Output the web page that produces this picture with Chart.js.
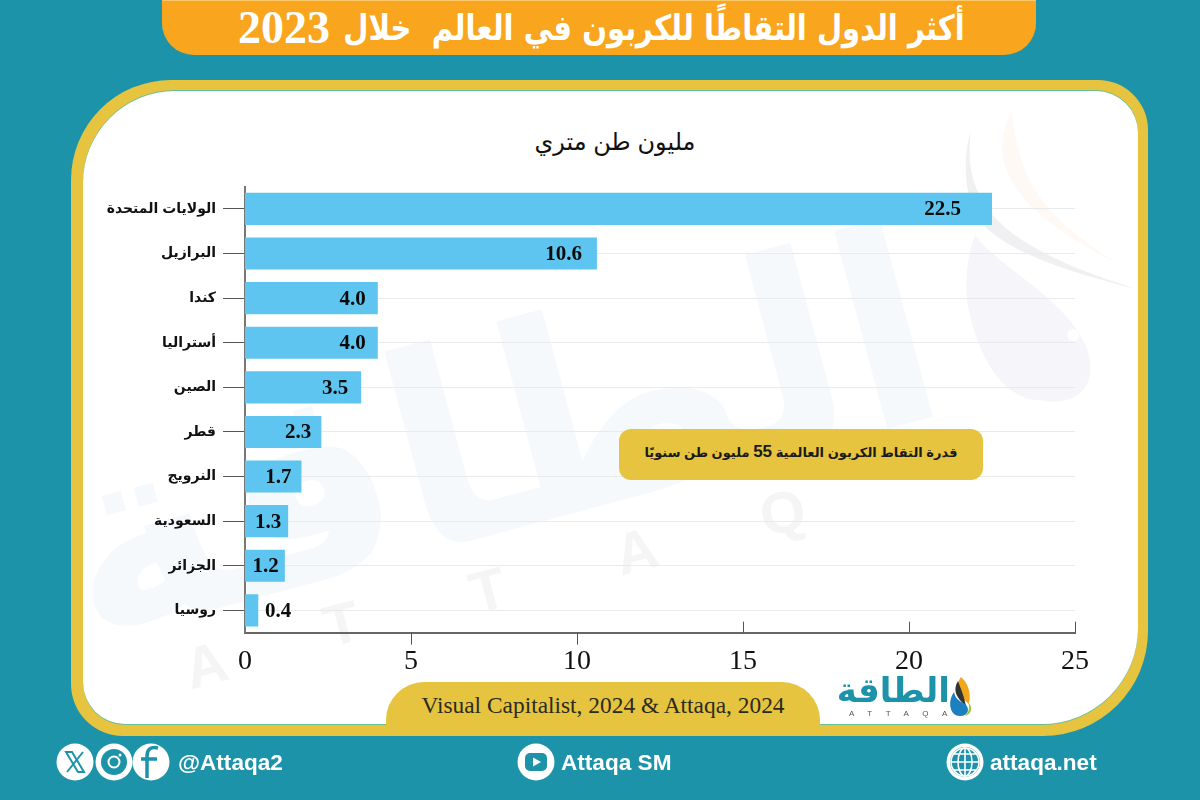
<!DOCTYPE html>
<html lang="ar">
<head>
<meta charset="utf-8">
<title>أكثر الدول التقاطًا للكربون في العالم خلال 2023</title>
<script src="https://cdn.jsdelivr.net/npm/chart.js@4"></script>
<style>
    html, body { margin: 0; padding: 0; }
    #page { position: relative; width: 1200px; height: 800px; overflow: hidden; background: #1c93a9; }
    #page > * { position: absolute; }
    #tab { left: 162px; top: 0; width: 874px; height: 55px; background: #f9a51e; border-radius: 0 0 32px 32px; box-shadow: inset 0 1px 0 #fbc96a; }
    #headingAr { right: 235px; top: 3px; color: #fff; font: bold 35px/50px "DejaVu Sans", sans-serif; white-space: nowrap; transform: scaleX(0.83); transform-origin: right center; }
    #headingYear { left: 238px; top: 3px; color: #fff; font: bold 46px/50px "Liberation Serif", serif; white-space: nowrap; }
    #frame { left: 71px; top: 80px; width: 1077px; height: 656px; background: #e6c43f; border-radius: 100px 50px 105px 52px; }
    #inner { left: 83px; top: 91px; width: 1055px; height: 633px; background: #fff; border-radius: 92px 42px 96px 42px; box-shadow: 0 -1px 0 #6cbf93, 0 1px 0 #6cbf93; overflow: hidden; }
    #watermark { left: -83px; top: -91px; position: absolute; }
    #unit { left: 415px; top: 126px; width: 400px; text-align: center; color: #111; font: 24px/32px "Liberation Sans", "DejaVu Sans", sans-serif; white-space: nowrap; }
    #source { left: 386px; top: 682px; width: 434px; height: 43px; background: #e6c43f; border-radius: 38px 38px 0 0; text-align: center; font: 23.4px/46px "Liberation Serif", serif; color: #2b2b1f; white-space: nowrap; }
    #note { left: 619px; top: 429px; width: 364px; height: 51px; background: #e6c43f; border-radius: 12px; text-align: center; font: bold 13px/46px "Liberation Sans", "DejaVu Sans", sans-serif; color: #1a1a1a; white-space: nowrap; }
    #note b { font-size: 17px; }
    #chart { left: 0; top: 0; }
    .foot { color: #fff; font: bold 22.6px/26px "Liberation Sans", sans-serif; white-space: nowrap; }
    #logoText { left: 838px; top: 668px; width: 112px; text-align: center; color: #1c93a9; font: bold 34px/44px "DejaVu Sans", sans-serif; white-space: nowrap; }
    #logoSub { left: 849px; top: 709px; color: #555; font: 8px/10px "Liberation Sans", sans-serif; letter-spacing: 13.5px; white-space: nowrap; }
</style>
</head>
<body>
<div id="page">
    <div id="tab"></div>
    <div id="headingAr" dir="rtl">أكثر الدول التقاطًا للكربون في العالم&nbsp; خلال</div>
    <div id="headingYear">2023</div>
    <div id="frame"></div>
    <div id="inner">
        <!-- faint watermark behind the chart -->
        <svg id="watermark" width="1200" height="800">
            <g transform="rotate(-15 500 450)" fill="#f5f9fb" font-family="DejaVu Sans" font-weight="bold">
                <text x="500" y="530" font-size="270" text-anchor="middle" direction="rtl">الطاقة</text>
            </g>
            <g transform="rotate(-14.8 205 665)" fill="#f5f5f5" font-family="Liberation Sans" font-weight="bold" font-size="58">
                <text x="185" y="685">A</text><text x="330" y="680">T</text><text x="480" y="685">T</text>
                <text x="630" y="685">A</text><text x="780" y="685">Q</text>
            </g>
            <path d="M971 130 C960 210 1010 250 1140 290 C1060 270 1000 250 975 215 C965 190 962 160 971 130Z" fill="#f0f0f2"/>
            <path d="M1012 112 C985 160 1010 210 1120 265 C1050 220 1020 190 1012 112Z" fill="#fef9f5"/>
            <path d="M975 235 C1000 270 1080 305 1090 360 C1095 400 1060 405 1040 400 C1000 400 975 350 967 300 C965 275 968 255 975 235Z" fill="#f5f5fa"/>
            <circle cx="1073" cy="335" r="6" fill="#fff"/>
        </svg>
    </div>

    <div id="unit" dir="rtl">مليون طن متري</div>
    <div id="source">Visual Capitalist, 2024 &amp; Attaqa, 2024</div>
    <canvas id="chart" width="1200" height="800"></canvas>
    <div id="note" dir="rtl">قدرة التقاط الكربون العالمية <b>55</b> مليون طن سنويًا</div>

    <!-- logo -->
    <div id="logoText" dir="rtl">الطاقة</div>
    <div id="logoSub">ATTAQA</div>
    <svg style="left:945px;top:674px" width="32" height="46">
        <path d="M16 3 C8 14 14 22 24 30 C26 20 24 10 16 3Z" fill="#f2a71b"/>
        <path d="M13 7 C7 17 12 24 21 32 C19 22 16 15 13 7Z" fill="#333"/>
        <path d="M9 18 C2 28 5 42 15 42 C24 42 25 34 20 30 C14 27 10 24 9 18Z" fill="#1c7fc0"/>
        <path d="M23 28 C28 33 27 40 20 42 C24 38 25 33 23 28Z" fill="#9cc33a"/>
    </svg>

    <!-- footer -->
    <svg style="left:55px;top:742px" width="120" height="40">
        <circle cx="20" cy="20" r="18.5" fill="#fff"/>
        <path d="M11 10 L17 10 L29 30 L23 30Z M28 10 L12 30" fill="none" stroke="#1c93a9" stroke-width="2"/>
        <circle cx="59" cy="20" r="18.5" fill="#fff"/>
        <circle cx="59" cy="20" r="13" fill="#1c93a9"/>
        <circle cx="59" cy="20" r="5.5" fill="none" stroke="#fff" stroke-width="2"/>
        <circle cx="65" cy="13" r="1.5" fill="#fff"/>
        <circle cx="96" cy="20" r="18.5" fill="#fff"/>
        <path d="M103 6 C95 4 92 8 92 14 L92 36 M86 17 L102 17" fill="none" stroke="#1c93a9" stroke-width="3.5"/>
    </svg>
    <div class="foot" style="left:178px;top:750px">@Attaqa2</div>
    <svg style="left:516px;top:742px" width="40" height="40">
        <circle cx="20" cy="20" r="18.5" fill="#fff"/>
        <rect x="9" y="11" width="22" height="18" rx="5" fill="#1c93a9"/>
        <path d="M17 15.5 L25 20 L17 24.5Z" fill="#fff"/>
    </svg>
    <div class="foot" style="left:561px;top:750px">Attaqa SM</div>
    <svg style="left:945px;top:742px" width="40" height="40">
        <circle cx="20" cy="20" r="18.5" fill="#fff"/>
        <circle cx="20" cy="20" r="15" fill="#1c93a9"/>
        <g fill="none" stroke="#fff" stroke-width="1.6">
            <circle cx="20" cy="20" r="14"/>
            <ellipse cx="20" cy="20" rx="7" ry="14"/>
            <path d="M20 6 L20 34 M6 20 L34 20 M9 12 L31 12 M9 28 L31 28"/>
        </g>
    </svg>
    <div class="foot" style="left:990px;top:750px">attaqa.net</div>
</div>

<script>
    // --- DATA ---
    const countries = ['الولايات المتحدة', 'البرازيل', 'كندا', 'أستراليا', 'الصين', 'قطر', 'النرويج', 'السعودية', 'الجزائر', 'روسيا'];
    const capture = [22.5, 10.6, 4.0, 4.0, 3.5, 2.3, 1.7, 1.3, 1.2, 0.4];
    const xTickValues = [0, 5, 10, 15, 20, 25];

    // distance of each value label from the end of its bar (negative = outside)
    const labelGaps = [31, 15, 12, 12, 13, 10, 10, 7, 6, -33];

    // value labels sit inside the bars
    const valueLabels = {
        id: 'valueLabels',
        afterDatasetsDraw(chart) {
            const ctx = chart.ctx;
            ctx.save();
            ctx.font = 'bold 21px "Liberation Serif", serif';
            ctx.fillStyle = '#0b0b0b';
            ctx.textAlign = 'right';
            ctx.textBaseline = 'middle';
            chart.getDatasetMeta(0).data.forEach((bar, i) => {
                ctx.fillText(capture[i].toFixed(1), bar.x - labelGaps[i], bar.y + 1);
            });
            ctx.restore();
        }
    };

    // x ticks go below the axis up to 10 and above it after that
    const xTickMarks = {
        id: 'xTickMarks',
        afterDraw(chart) {
            const ctx = chart.ctx;
            const x = chart.scales.x;
            ctx.save();
            ctx.strokeStyle = '#555';
            ctx.lineWidth = 1;
            xTickValues.forEach(v => {
                if (v === 0) return;
                const px = Math.round(x.getPixelForValue(v)) + 0.5;
                ctx.beginPath();
                ctx.moveTo(px, x.top);
                ctx.lineTo(px, v <= 10 ? x.top + 12 : x.top - 11);
                ctx.stroke();
            });
            ctx.restore();
        }
    };

    new Chart(document.getElementById('chart'), {
        type: 'bar',
        data: {
            labels: countries,
            datasets: [{
                data: capture,
                backgroundColor: '#5ec5f0',
                barPercentage: 0.72,
                categoryPercentage: 1
            }]
        },
        options: {
            indexAxis: 'y',
            responsive: false,
            animation: false,
            layout: { padding: { left: 0, right: 125, top: 186.6, bottom: 107.3 } },
            plugins: {
                legend: { display: false },
                tooltip: { enabled: false }
            },
            scales: {
                x: {
                    min: 0,
                    max: 25,
                    afterFit: scale => { scale.height = 60; },
                    afterBuildTicks: scale => { scale.ticks = xTickValues.map(v => ({ value: v })); },
                    grid: { display: false },
                    border: { color: '#666', width: 2 },
                    ticks: {
                        color: '#111',
                        maxRotation: 0,
                        padding: 4,
                        font: { family: '"Liberation Serif", serif', size: 28 }
                    }
                },
                y: {
                    afterFit: scale => { scale.width = 245; },
                    grid: { offset: false, color: '#e8eaee', tickColor: '#555', tickLength: 22, lineWidth: 1 },
                    border: { color: '#777', width: 2 },
                    ticks: {
                        color: '#111',
                        padding: 7,
                        font: { family: '"Liberation Sans", "DejaVu Sans", sans-serif', size: 14, weight: 'bold' }
                    }
                }
            }
        },
        plugins: [valueLabels, xTickMarks]
    });
</script>
</body>
</html>
